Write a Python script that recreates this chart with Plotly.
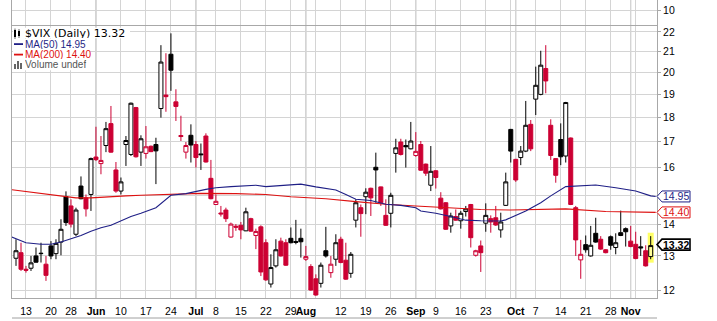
import numpy as np
import plotly.graph_objects as go

# ---------------- data (trading-day index 0 = 9 May 2013) ----------------
open_ = [12.93, 13.10, 12.60, 12.63, 13.00, 13.07, 12.75, 13.31, 13.07, 13.43,
         14.94, 14.62, 13.68, 15.32, 14.90, 15.02, 16.40, 16.15, 16.85, 17.74,
         15.91, 15.14, 16.89, 16.50, 18.42, 16.59, 16.54, 16.82, 16.89, 18.38,
         18.97, 20.88, 18.67, 17.25, 16.59, 17.26, 16.89, 16.52, 17.23, 15.60,
         14.67, 14.38, 14.48, 13.59, 13.94, 13.97, 13.79, 14.19, 13.64, 13.92,
         13.41, 12.17, 12.70, 13.46, 13.41, 13.55, 13.45, 13.55, 12.90, 12.68,
         12.32, 12.19, 13.16, 12.50, 12.90, 13.52, 12.87, 12.48, 14.14, 14.56,
         14.94, 15.24, 16.01, 15.29, 14.30, 14.37, 16.54, 16.99, 16.85, 16.72,
         16.46, 16.89, 16.13, 15.35, 15.88, 14.89, 14.73, 13.95, 14.26, 14.12,
         14.43, 14.67, 13.02, 13.31, 14.04, 14.19, 14.22, 13.82, 14.64, 17.50,
         16.31, 16.38, 16.63, 17.71, 18.79, 19.00, 20.19, 17.67, 16.34, 17.09,
         16.44, 17.15, 14.56, 12.88, 13.35, 13.00, 13.71, 13.52, 13.19, 13.60,
         13.26, 13.73, 13.86, 13.46, 13.36, 13.28, 13.16, 12.98]
high = [13.52, 13.41, 12.70, 13.00, 13.26, 13.41, 13.00, 13.46, 13.52, 14.17,
        15.13, 14.85, 14.56, 15.67, 15.02, 16.38, 17.61, 17.23, 17.81, 18.49,
        16.21, 15.63, 17.23, 18.64, 18.45, 17.26, 17.64, 16.85, 17.16, 21.33,
        20.93, 21.93, 19.23, 18.07, 16.99, 17.71, 17.03, 16.93, 17.34, 16.29,
        15.02, 14.62, 14.56, 14.06, 14.01, 14.08, 14.56, 14.22, 13.86, 13.97,
        13.52, 13.05, 13.52, 13.57, 13.52, 13.90, 14.15, 13.86, 13.31, 12.75,
        12.45, 12.80, 13.92, 13.00, 13.68, 13.60, 13.41, 13.12, 14.85, 14.67,
        15.24, 15.26, 16.57, 15.30, 14.85, 15.08, 17.12, 17.12, 17.09, 17.81,
        17.39, 17.03, 16.15, 16.83, 15.90, 15.10, 14.75, 14.39, 14.50, 14.45,
        14.62, 14.69, 13.19, 13.48, 14.71, 14.30, 14.62, 14.39, 15.81, 17.52,
        16.33, 16.83, 18.71, 17.89, 20.28, 21.05, 21.33, 17.92, 16.36, 17.75,
        18.67, 17.17, 14.62, 13.50, 13.64, 13.95, 14.22, 13.62, 13.21, 13.64,
        13.71, 14.46, 13.90, 13.95, 13.76, 13.62, 13.33, 13.62]
low = [12.70, 12.55, 12.50, 12.55, 12.80, 12.80, 12.26, 12.90, 12.90, 13.02,
       13.95, 13.90, 13.62, 14.85, 14.26, 14.45, 16.25, 15.75, 16.59, 16.57,
       15.08, 15.02, 16.06, 16.44, 16.38, 16.06, 16.34, 16.59, 15.39, 17.99,
       18.24, 19.16, 17.85, 17.03, 16.34, 16.19, 16.00, 15.91, 16.19, 14.85,
       14.65, 14.26, 14.08, 13.57, 13.79, 13.52, 13.78, 13.76, 13.21, 12.40,
       12.26, 12.07, 12.65, 12.98, 12.70, 13.39, 13.36, 12.95, 12.85, 11.98,
       11.84, 12.07, 12.95, 12.35, 12.70, 12.78, 12.29, 12.35, 13.90, 13.60,
       14.34, 14.28, 14.73, 14.62, 13.95, 13.90, 15.81, 16.46, 16.00, 16.70,
       16.41, 15.88, 15.69, 15.14, 15.23, 14.50, 13.82, 13.73, 14.12, 13.86,
       14.26, 13.26, 12.98, 12.52, 13.76, 13.73, 13.95, 13.57, 14.62, 16.19,
       15.47, 16.09, 16.59, 16.63, 18.10, 18.96, 19.05, 16.29, 15.44, 16.09,
       16.19, 14.65, 13.00, 12.32, 13.10, 12.98, 13.41, 13.19, 13.08, 13.19,
       13.05, 13.62, 13.29, 13.27, 12.90, 13.00, 12.68, 12.90]
close = [13.16, 12.60, 12.57, 12.79, 12.81, 13.08, 12.42, 13.00, 13.39, 13.84,
         14.06, 14.01, 14.48, 14.87, 14.52, 16.34, 16.30, 16.27, 17.53, 16.59,
         15.14, 15.47, 17.05, 18.61, 16.41, 17.12, 16.80, 16.61, 16.64, 20.50,
         18.90, 20.11, 18.47, 17.21, 16.85, 16.87, 16.38, 16.49, 16.21, 14.87,
         14.78, 14.35, 14.19, 14.01, 13.91, 13.82, 14.42, 13.78, 13.77, 12.52,
         12.29, 12.65, 13.19, 13.00, 12.72, 13.41, 13.42, 13.44, 12.98, 12.00,
         11.86, 12.72, 13.00, 12.75, 13.41, 12.80, 12.31, 13.05, 14.73, 14.36,
         15.10, 14.90, 15.91, 14.73, 13.97, 14.99, 16.76, 16.50, 16.80, 17.03,
         16.62, 15.90, 15.79, 15.86, 15.63, 14.52, 13.84, 14.28, 14.14, 14.37,
         14.52, 13.57, 13.16, 13.10, 14.30, 14.08, 13.98, 14.08, 15.47, 16.63,
         15.54, 16.63, 17.67, 16.72, 19.41, 20.35, 19.61, 16.46, 15.71, 16.41,
         18.64, 14.67, 13.50, 13.05, 13.19, 13.33, 13.43, 13.21, 13.10, 13.33,
         13.41, 13.64, 13.76, 13.29, 12.92, 13.25, 12.70, 13.32]

ma50_x = [-1, 2, 5, 7, 9, 11, 13, 15, 17, 19, 21, 23, 25, 28, 31, 34, 38, 40, 43,
          48, 50, 53, 57, 60, 64, 66, 68, 71, 74, 77, 80, 81, 84, 87, 90, 93, 97,
          98, 100, 102, 105, 107, 110, 113, 116, 120, 124, 127, 128]
ma50_y = [13.60, 13.41, 13.36, 13.36, 13.43, 13.54, 13.64, 13.78, 13.89, 13.97,
          14.11, 14.26, 14.37, 14.56, 14.99, 15.05, 15.20, 15.26, 15.30, 15.35,
          15.30, 15.35, 15.39, 15.29, 15.18, 15.02, 14.85, 14.81, 14.68, 14.64,
          14.56, 14.45, 14.37, 14.26, 14.14, 14.12, 14.11, 14.15, 14.30, 14.45,
          14.73, 14.97, 15.30, 15.32, 15.36, 15.26, 15.14, 14.97, 14.95]
ma200_x = [-1, 2, 5, 8, 10, 12, 15, 18, 22, 25, 30, 37, 44, 50, 55, 62, 68, 74,
           80, 87, 93, 99, 105, 110, 118, 128]
ma200_y = [15.19, 15.12, 15.06, 14.99, 14.92, 14.90, 14.90, 14.94, 14.97, 14.99,
           15.01, 15.06, 15.05, 15.02, 14.94, 14.87, 14.77, 14.68, 14.62, 14.56,
           14.50, 14.48, 14.50, 14.52, 14.43, 14.40]

grid_idx = [2, 7, 11, 16, 21, 26, 31, 36, 40, 45, 50, 55, 58, 60, 65, 70, 75,
            80, 84, 89, 94, 99, 100, 104, 109, 114, 119, 123, 124]
grid_text = ["13", "20", "28", "<b>Jun</b>", "10", "17", "24", "<b>Jul</b>", "8",
             "15", "22", "29", "<b>Aug</b>", "", "12", "19", "26", "<b>Sep</b>",
             "9", "16", "23", "", "<b>Oct</b>", "7", "14", "21", "28", "<b>Nov</b>", ""]
month_idx = [16, 36, 58, 80, 100, 123]
y_ticks = [12, 13, 14, 15, 16, 17, 18, 19, 20, 21, 22]
y_text = ["12", "13", "14", "", "16", "17", "18", "19", "20", "21", "22"]

# ---------------- style ----------------
RED = "#cc0033"
BLACK = "#000000"
NAVY = "#1f1f86"
MARED = "#dd1111"
GRID = "#d4d4d4"
FONT = "Liberation Sans"

n = len(close)
idx = list(range(n))

fig = go.Figure()

# group candles by StockCharts style
groups = {}
for i in idx:
    hollow = close[i] >= open_[i]
    up = i == 0 or close[i] >= close[i - 1]
    last = i == n - 1
    key = (hollow, up, last)
    groups.setdefault(key, []).append(i)

for (hollow, up, last), ids in groups.items():
    col = BLACK if up else RED
    fill = ("#ffff99" if last else "white") if hollow else col
    fig.add_trace(go.Candlestick(
        x=ids,
        open=[open_[i] for i in ids], high=[high[i] for i in ids],
        low=[low[i] for i in ids], close=[close[i] for i in ids],
        increasing=dict(line=dict(color=col, width=1), fillcolor=fill),
        decreasing=dict(line=dict(color=col, width=1), fillcolor=fill),
        whiskerwidth=0, showlegend=False, hoverinfo="skip",
        xaxis="x", yaxis="y"))

fig.add_trace(go.Scatter(x=ma200_x, y=ma200_y, mode="lines",
                         line=dict(color=MARED, width=1.1), hoverinfo="skip"))
fig.add_trace(go.Scatter(x=ma50_x, y=ma50_y, mode="lines",
                         line=dict(color=NAVY, width=1.1), hoverinfo="skip"))
# empty trace for the top (cut-off) indicator panel
fig.add_trace(go.Scatter(x=[], y=[], xaxis="x2", yaxis="y2", hoverinfo="skip"))

L, T, W, H = 12, 0, 645, 298
def px_x(p):
    return (p - L) / W
def px_y(p):
    return (T + H - p) / H

shapes = []
# darker month separators
for m in month_idx:
    shapes.append(dict(type="line", xref="x", yref="paper", x0=m, x1=m,
                       y0=0, y1=1, line=dict(color="#ababab", width=1), layer="below"))
# yellow highlight on last candle
shapes.append(dict(type="rect", xref="x", yref="y", x0=n - 1 - 0.6, x1=n - 1 + 0.6,
                   y0=low[-1] * 0.992, y1=high[-1] * 1.008,
                   fillcolor="#ffff66", line=dict(width=0), layer="below"))
# bottom (cut-off) panel border
shapes.append(dict(type="line", xref="paper", yref="paper", x0=0, x1=1,
                   y0=px_y(318), y1=px_y(318), line=dict(color="#a0a0a0", width=1)))

annotations = []
# value tags on the right axis
tags = [(ma50_y[-1], NAVY, False, 0), (ma200_y[-1], MARED, False, 0),
        (close[-1], BLACK, True, 1)]
for v, c, bold, up in tags:
    shapes.append(dict(type="path", xref="paper", yref="y", xsizemode="pixel",
                       ysizemode="pixel", xanchor=1, yanchor=v,
                       path=f"M0,{up} L5,{5.5 + up} L33,{5.5 + up} L33,{-5.5 + up} L5,{-5.5 + up} Z",
                       fillcolor="white", line=dict(color=c, width=1.6 if bold else 1)))
    txt = f"{v:.2f}"
    annotations.append(dict(xref="paper", yref="y", x=1, y=np.log10(v),
                            xanchor="left", yanchor="middle", xshift=4, yshift=up,
                            height=8, valign="middle",
                            text=f"<b>{txt}</b>" if bold else txt, showarrow=False,
                            font=dict(family=FONT, size=10.5, color=c)))

# legend block (top-left): white patches behind text, then plain text
def prect(x0, x1, y0, y1, col):
    shapes.append(dict(type="rect", xref="paper", yref="paper",
                       x0=px_x(x0), x1=px_x(x1), y0=px_y(y1), y1=px_y(y0),
                       fillcolor=col, line=dict(width=0)))

leg = [("$VIX (Daily) %.2f" % close[-1], BLACK, "DejaVu Sans", 11, 33, 130),
       ("MA(50) %.2f" % ma50_y[-1], NAVY, FONT, 10, 44, 84),
       ("MA(200) %.2f" % ma200_y[-1], MARED, FONT, 10, 54.5, 90),
       ("Volume undef", "#555555", FONT, 10, 65, 88)]
for text, c, fam, sz, yy, xr in leg:
    prect(13, xr, yy - 5.3, yy + 5.3, "white")
for text, c, fam, sz, yy, xr in leg:
    annotations.append(dict(xref="paper", yref="paper", x=px_x(23), y=px_y(yy),
                            xanchor="left", yanchor="middle", text=text,
                            showarrow=False, height=9, valign="middle",
                            font=dict(family=fam, size=sz, color=c)))
# legend icons
prect(14, 16, 30, 37, BLACK)
prect(14.7, 15.3, 28.5, 39, BLACK)
prect(18, 20, 31, 36, BLACK)
prect(18.7, 19.3, 29, 38, BLACK)
prect(14, 23, 43.2, 45, NAVY)
prect(14, 23, 53.7, 55.5, MARED)
prect(14, 16, 64, 69, "#666666")
prect(17, 19, 61, 69, "#666666")
prect(20, 22, 63, 69, "#666666")

ax_common = dict(showgrid=True, gridcolor=GRID, gridwidth=1, zeroline=False,
                 showline=True, linecolor="#a8a8a8", linewidth=1, mirror=True)

fig.update_layout(
    width=717, height=321,
    margin=dict(l=L, r=717 - L - W, t=T, b=321 - T - H),
    plot_bgcolor="white", paper_bgcolor="white",
    showlegend=False, boxmode="overlay", boxgap=0.2, boxgroupgap=0,
    hovermode=False,
    xaxis=dict(range=[-0.8, 128.26], tickmode="array", tickvals=grid_idx,
               ticktext=grid_text, ticks="", anchor="y", tickangle=0,
               tickfont=dict(family=FONT, size=10.5, color="black"),
               ticklabelstandoff=3,
               rangeslider=dict(visible=False), **ax_common),
    yaxis=dict(type="log", range=[np.log10(11.777), np.log10(22.312)],
               domain=[0, px_y(26)], side="right", tickmode="array",
               tickvals=y_ticks, ticktext=y_text, ticks="outside", ticklen=3,
               tickcolor="#a8a8a8", anchor="x",
               tickfont=dict(family=FONT, size=10.5, color="black"), **ax_common),
    xaxis2=dict(matches="x", anchor="y2", tickmode="array", tickvals=grid_idx,
                showticklabels=False, ticks="", **ax_common),
    yaxis2=dict(domain=[px_y(25), 1], range=[0, 17.2], side="right",
                tickmode="array", tickvals=[10], ticktext=["10"], ticks="outside",
                ticklen=3, tickcolor="#a8a8a8", anchor="x2",
                tickfont=dict(family=FONT, size=10.5, color="black"), **ax_common),
    shapes=shapes, annotations=annotations,
)

fig.write_html("out.html")
